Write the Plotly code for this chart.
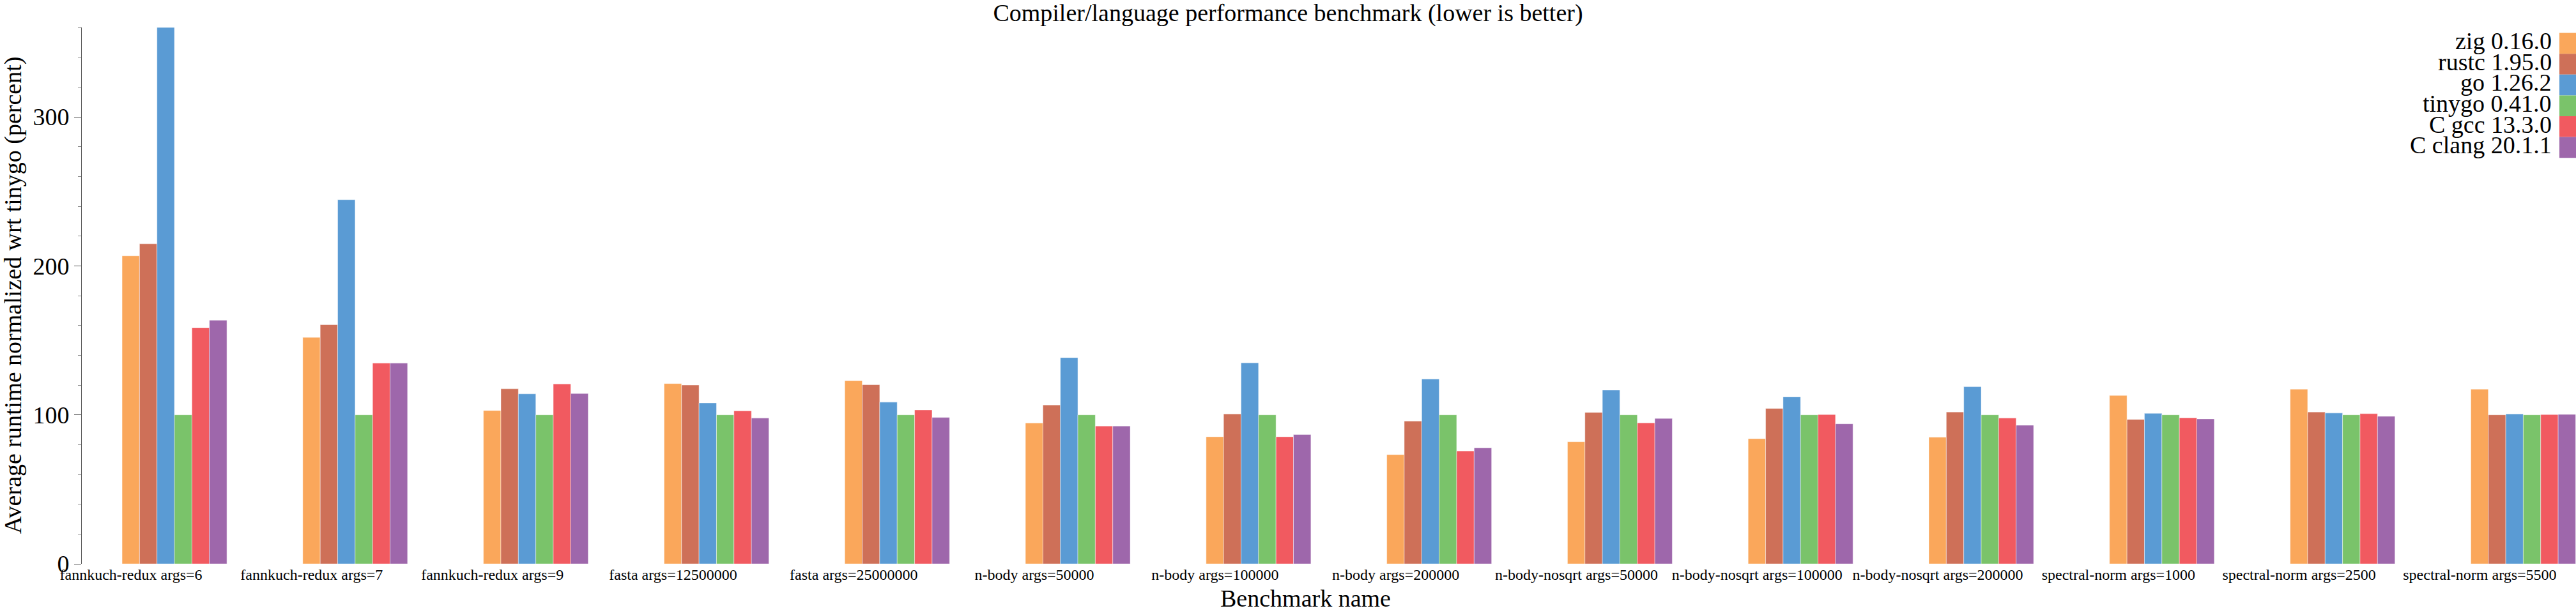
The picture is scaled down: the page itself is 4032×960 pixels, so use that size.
import plotly.graph_objects as go

categories = ["fannkuch-redux args=6", "fannkuch-redux args=7", "fannkuch-redux args=9",
              "fasta args=12500000", "fasta args=25000000",
              "n-body args=50000", "n-body args=100000", "n-body args=200000",
              "n-body-nosqrt args=50000", "n-body-nosqrt args=100000", "n-body-nosqrt args=200000",
              "spectral-norm args=1000", "spectral-norm args=2500", "spectral-norm args=5500"]

series_names = ["zig 0.16.0", "rustc 1.95.0", "go 1.26.2", "tinygo 0.41.0", "C gcc 13.3.0", "C clang 20.1.1"]

zig = [206.7, 152.0, 102.9, 121.0, 122.9, 94.5, 85.3, 73.3, 82.0, 84.0, 85.0, 113.0, 117.2, 117.2]
rustc = [214.8, 160.5, 117.5, 120.0, 120.2, 106.6, 100.6, 95.8, 101.6, 104.3, 101.9, 96.9, 101.9, 100.0]
golang = [360.0, 244.4, 114.1, 108.0, 108.5, 138.3, 134.9, 124.0, 116.6, 112.0, 118.9, 101.0, 101.2, 100.6]
tinygo = [100, 100, 100, 100, 100, 100, 100, 100, 100, 100, 100, 100, 100, 100]
gcc = [158.4, 134.7, 120.7, 102.6, 103.3, 92.5, 85.3, 75.8, 94.6, 100.2, 97.8, 97.9, 100.8, 100.2]
clang = [163.5, 134.7, 114.3, 97.8, 98.2, 92.5, 86.8, 77.8, 97.6, 94.0, 93.0, 97.3, 99.0, 100.3]

values = [zig, rustc, golang, tinygo, gcc, clang]
colors = ["#FAA75B", "#CE7058", "#5A9BD4", "#7AC36A", "#F15A60", "#9E67AB"]

y_ticks = [0, 100, 200, 300]

FONT = "Liberation Serif"
W, H = 4032, 960
ML, MR, MT, MB = 128, 0, 43, 77
PW, PH = W - ML - MR, H - MT - MB


def px(p):
    return (p - ML) / PW


def py(p):
    return (H - MB - p) / PH


fig = go.Figure()
for name, vals, col in zip(series_names, values, colors):
    fig.add_trace(go.Bar(
        x=categories, y=vals, name=name,
        marker=dict(color=col, line=dict(color="rgba(255,255,255,0.45)", width=1)),
        showlegend=False,
    ))

annotations = []
shapes = []
# custom legend (swatch to the right of the text)
for i, (name, col) in enumerate(zip(series_names, colors)):
    top = 51.6 + 32.6 * i
    shapes.append(dict(type="rect", xref="paper", yref="paper",
                       x0=px(4006), x1=px(4040), y0=py(top + 32.6), y1=py(top),
                       fillcolor=col, line=dict(width=0)))
    annotations.append(dict(text=name, xref="paper", yref="paper",
                            x=px(3996), y=py(top + 12.5), xanchor="right", yanchor="middle",
                            showarrow=False, font=dict(family=FONT, size=38, color="black")))

# axis titles
annotations.append(dict(text="Benchmark name", xref="paper", yref="paper",
                        x=px(2043), y=py(937), xanchor="center", yanchor="middle",
                        showarrow=False, font=dict(family=FONT, size=38, color="black")))
annotations.append(dict(text="Average runtime normalized wrt tinygo (percent)", xref="paper", yref="paper",
                        x=px(20), y=0.5, xanchor="center", yanchor="middle", textangle=-90,
                        showarrow=False, font=dict(family=FONT, size=38, color="black")))

fig.update_layout(
    width=W, height=H,
    margin=dict(l=ML, r=MR, t=MT, b=MB),
    paper_bgcolor="white", plot_bgcolor="white",
    barmode="group", bargap=0.42, bargroupgap=0,
    font=dict(family=FONT, color="black"),
    title=dict(text="Compiler/language performance benchmark (lower is better)",
               x=0.5, xref="container", xanchor="center",
               y=1 - 20 / H, yref="container", yanchor="middle",
               font=dict(family=FONT, size=38, color="black")),
    annotations=annotations,
    shapes=shapes,
    showlegend=False,
)

fig.update_xaxes(
    type="category", range=[-0.513, 13.292],
    showline=False, showgrid=False, zeroline=False, ticks="",
    tickfont=dict(family=FONT, size=24, color="black"),
    ticklabelshift=-68,
)

fig.update_yaxes(
    range=[0, 360], tickmode="array", tickvals=y_ticks,
    showline=True, linecolor="#555", linewidth=1,
    showgrid=False, zeroline=False,
    ticks="outside", ticklen=11, tickcolor="#555", tickwidth=1,
    tickfont=dict(family=FONT, size=38, color="black"),
    minor=dict(dtick=20, ticks="outside", ticklen=5, tickcolor="#888", showgrid=False),
)

fig.write_html("out.html")
